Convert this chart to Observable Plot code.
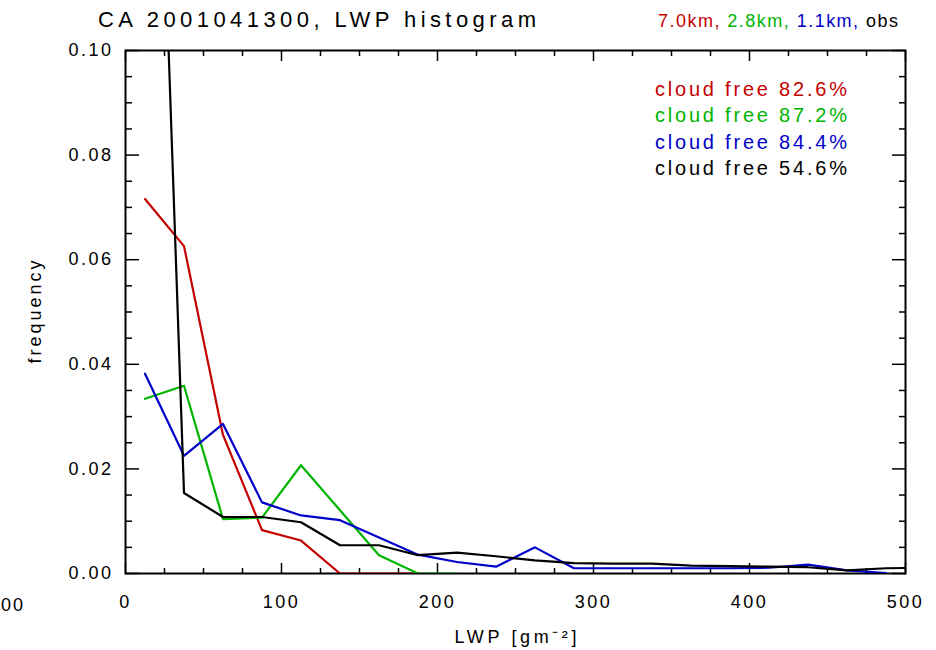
<!DOCTYPE html>
<html><head><meta charset="utf-8">
<script src="https://cdn.jsdelivr.net/npm/d3@7"></script>
<script src="https://cdn.jsdelivr.net/npm/@observablehq/plot@0.6"></script>
<style>body{margin:0;background:#fff} #chart svg{display:block}</style>
</head><body><div id="chart"></div>
<script>
// bin centres of the LWP histogram (g m^-2)
const lwpBins = [12.5,37.5,62.5,87.5,112.5,137.5,162.5,187.5,212.5,237.5,262.5,287.5,312.5,337.5,362.5,387.5,412.5,437.5,462.5,487.5,512.5];
const freq7km  = [0.0716,0.0626,0.0265,0.0083,0.0063,0,0,0];
const freq28km = [0.0334,0.0359,0.0104,0.0107,0.0207,0.0121,0.0035,0,0];
const freq11km = [0.0382,0.0225,0.0286,0.0136,0.0111,0.0102,0.0069,0.0036,0.0022,0.0013,0.0050,0.0010,0.0010,0.0010,0.0010,0.0010,0.0011,0.0017,0.0006,0.0001];
const freqObs  = [0.23,0.0154,0.0108,0.0108,0.0098,0.0054,0.0054,0.0035,0.0040,0.0033,0.0025,0.0020,0.0019,0.0019,0.0015,0.0014,0.0013,0.0012,0.0006,0.0010,0.0011];
const seriesNames  = ["7.0km","2.8km","1.1km","obs"];
const seriesColors = ["#c40000","#00b400","#0000c8","#000000"];
const cloudFree    = ["82.6%","87.2%","84.4%","54.6%"];
const xTicks = [0,100,200,300,400,500];
const xMinor = [25,50,75,125,150,175,225,250,275,325,350,375,425,450,475];
const yTicks = [0,0.02,0.04,0.06,0.08,0.10];
const yMinor = [0.005,0.01,0.015,0.025,0.03,0.035,0.045,0.05,0.055,0.065,0.07,0.075,0.085,0.09,0.095];
const titleText = "CA 2001041300, LWP histogram";
const xLabel = "LWP [gm\u207B\u00B2]";
const yLabel = "frequency";

const freqs = [freq7km, freq28km, freq11km, freqObs];
const rows = seriesNames.flatMap((s, i) => freqs[i].map((f, j) => ({series: s, lwp: lwpBins[j], freq: f})));

const font = "Liberation Sans, Arial, sans-serif";
const chart = Plot.plot({
  width: 936, height: 650,
  marginLeft: 125, marginRight: 31, marginTop: 50, marginBottom: 77,
  style: {fontFamily: font, fontSize: "18px", color: "#000", background: "#fff", overflow: "visible"},
  x: {domain: [0, 500]},
  y: {domain: [0, 0.1]},
  color: {domain: seriesNames, range: seriesColors},
  marks: [
    Plot.frame({strokeWidth: 2}),
    Plot.axisX(xTicks, {anchor: "bottom", tickSize: 0, tickPadding: 22, tickFormat: d => String(d), label: xLabel, labelAnchor: "center", labelArrow: "none", labelOffset: 69}),
    Plot.axisX(xTicks, {anchor: "bottom", tickSize: -10, fill: "none", label: null, strokeWidth: 1.5}),
    Plot.axisX(xMinor, {anchor: "bottom", tickSize: -5, fill: "none", label: null, strokeWidth: 1.5}),
    Plot.axisX(xTicks, {anchor: "top", tickSize: -10, fill: "none", label: null, strokeWidth: 1.5}),
    Plot.axisX(xMinor, {anchor: "top", tickSize: -5, fill: "none", label: null, strokeWidth: 1.5}),
    Plot.axisY(yTicks, {anchor: "left", tickSize: 0, tickPadding: 12, tickFormat: d3.format(".2f"), label: yLabel, labelAnchor: "center", labelArrow: "none", labelOffset: 97}),
    Plot.axisY(yTicks, {anchor: "left", tickSize: -14, fill: "none", label: null, strokeWidth: 1.5}),
    Plot.axisY(yMinor, {anchor: "left", tickSize: -7, fill: "none", label: null, strokeWidth: 1.5}),
    Plot.axisY(yTicks, {anchor: "right", tickSize: -14, fill: "none", label: null, strokeWidth: 1.5}),
    Plot.axisY(yMinor, {anchor: "right", tickSize: -7, fill: "none", label: null, strokeWidth: 1.5}),
    Plot.line(rows, {x: "lwp", y: "freq", z: "series", stroke: "series", strokeWidth: 2.2, clip: true})
  ]
});
document.getElementById("chart").appendChild(chart);

const svg = d3.select(chart);
svg.selectAll('g[aria-label="x-axis tick label"] text, g[aria-label="y-axis tick label"] text')
  .attr("letter-spacing", "2.5px");
svg.selectAll('g[aria-label="x-axis label"] text').attr("textLength", 122).attr("lengthAdjust", "spacing");
svg.selectAll('g[aria-label="y-axis label"] text').attr("textLength", 103).attr("lengthAdjust", "spacing");

// title
svg.append("text").attr("x", 98).attr("y", 27).attr("text-anchor", "start").attr("font-family", font).attr("font-size", 22)
  .attr("textLength", 438).attr("lengthAdjust", "spacing").text(titleText);
// coloured run list
const rt = svg.append("text").attr("x", 658).attr("y", 27).attr("text-anchor", "start").attr("font-family", font).attr("font-size", 18)
  .attr("textLength", 240).attr("lengthAdjust", "spacing");
seriesNames.forEach((s, i) => {
  rt.append("tspan").attr("fill", seriesColors[i]).text(s + (i < seriesNames.length - 1 ? ", " : ""));
});
// cloud-free legend
cloudFree.forEach((c, i) => {
  svg.append("text").attr("x", 655).attr("y", 96 + i * 26.3).attr("text-anchor", "start").attr("font-family", font).attr("font-size", 20)
    .attr("fill", seriesColors[i]).attr("textLength", 192).attr("lengthAdjust", "spacing")
    .text("cloud free " + c);
});
// partly visible label from a neighbouring panel
svg.append("text").attr("x", 1).attr("y", 611).attr("text-anchor", "start").attr("font-family", font)
  .attr("font-size", 18).attr("letter-spacing", "2px").text("00");
</script>
</body></html>
